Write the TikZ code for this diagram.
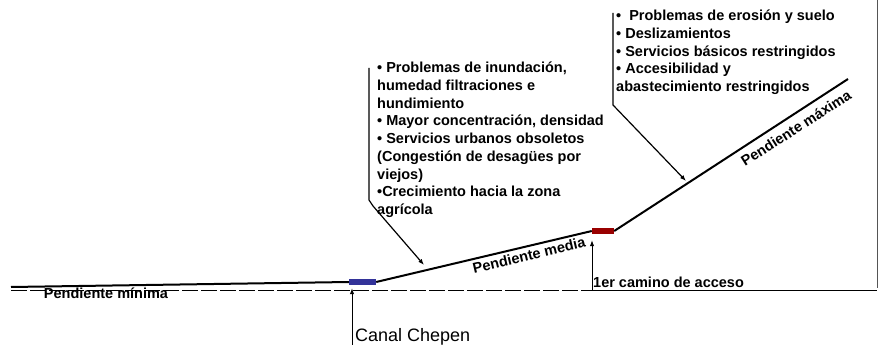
\documentclass[tikz,border=0pt]{standalone}
\usepackage{fontspec}
\setmainfont{Liberation Sans}
\usetikzlibrary{arrows.meta, calc, positioning}
\definecolor{canalBlue}{HTML}{333399}
\definecolor{caminoRed}{HTML}{990000}
\definecolor{bordeGrey}{HTML}{555555}
\tikzset{
  % pixel-like units: the picture is laid out on the 879 x 345 grid
  perfil/.style   = {line width=2pt, black},
  llamada/.style  = {line width=1.2pt, -{Latex[length=6pt,width=4.5pt]}},
  flecha/.style   = {line width=1pt, -{Latex[length=6pt,width=4.5pt]}},
  cota/.style     = {line width=1pt, dash pattern=on 16pt off 3pt},
  tramo/.style    = {minimum width=#1, minimum height=6pt, inner sep=0, draw=none},
  nota/.style     = {font=\fontsize{14.5}{17.7}\selectfont\bfseries, align=left, inner sep=0},
  lbl/.style      = {font=\fontsize{14.5}{17}\selectfont\bfseries, inner sep=0},
}

\begin{document}
\begin{tikzpicture}[x=1pt,y=-1pt]
  \useasboundingbox (0,0) rectangle (879,345);
  % --- perfil del terreno ------------------------------------------------
  \node[tramo=27pt, fill=canalBlue] (canal) at (362.5,282) {};
  \node[tramo=22pt, fill=caminoRed] (camino) at (603,231) {};
  \coordinate (inicio) at (11,287);
  \coordinate (cima) at (848,79);
  \draw[perfil] (inicio) -- (canal.west);
  \draw[perfil] (canal.east) -- (camino.west);
  \draw[perfil] (camino.east) -- (cima);
  % --- nivel de referencia -----------------------------------------------
  \draw[cota] (11,290) -- (592,290);
  \draw[line width=1pt] (592,290) -- (877,290);
  \draw[bordeGrey, line width=1pt] (877,0) -- (877,288);
  % --- pendientes ---------------------------------------------------------
  \node[lbl] (minima) at (106,293) {Pendiente mínima};
  \node[lbl, rotate=13.3] (media) at (529,255) {Pendiente media};
  \node[lbl, rotate=32.6] (maxima) at (796,128) {Pendiente máxima};
  % --- referencias bajo el perfil ----------------------------------------
  \node[font=\fontsize{18}{20}\selectfont, anchor=base west, inner sep=0]
    (lblCanal) at (355,341) {Canal Chepen};
  \node[lbl, anchor=base west] (lblCamino) at (593,287) {1er camino de acceso};
  \coordinate (pieCanal) at (352,345);
  \coordinate (pieCamino) at (592,290);
  \draw[flecha, shorten >=3pt] (pieCanal) -- (pieCanal |- canal.south);
  \draw[flecha, shorten >=6pt] (pieCamino) -- (pieCamino |- camino.south);
  % --- problemas por zona -------------------------------------------------
  \node[nota, anchor=north west] (notaBaja) at (377,62)
    {• Problemas de inundación,\\ humedad filtraciones e\\ hundimiento\\
     • Mayor concentración, densidad\\ • Servicios urbanos obsoletos\\
     (Congestión de desagües por\\ viejos)\\ •Crecimiento hacia la zona\\ agrícola};
  \node[nota, anchor=north west] (notaAlta) at (616,10)
    {•\ \ Problemas de erosión y suelo\\ • Deslizamientos\\
     • Servicios básicos restringidos\\ • Accesibilidad y\\
     abastecimiento restringidos};
  \coordinate (zonaBaja) at (424,265);
  \coordinate (zonaAlta) at (686,181);
  \draw[llamada] ([shift={(-8,6)}]notaBaja.north west) -- ++(0,132) -- ++(4,6) -- (zonaBaja);
  \draw[llamada] ([shift={(-3,3)}]notaAlta.north west) -- ++(0,92) -- (zonaAlta);
\end{tikzpicture}
\end{document}
